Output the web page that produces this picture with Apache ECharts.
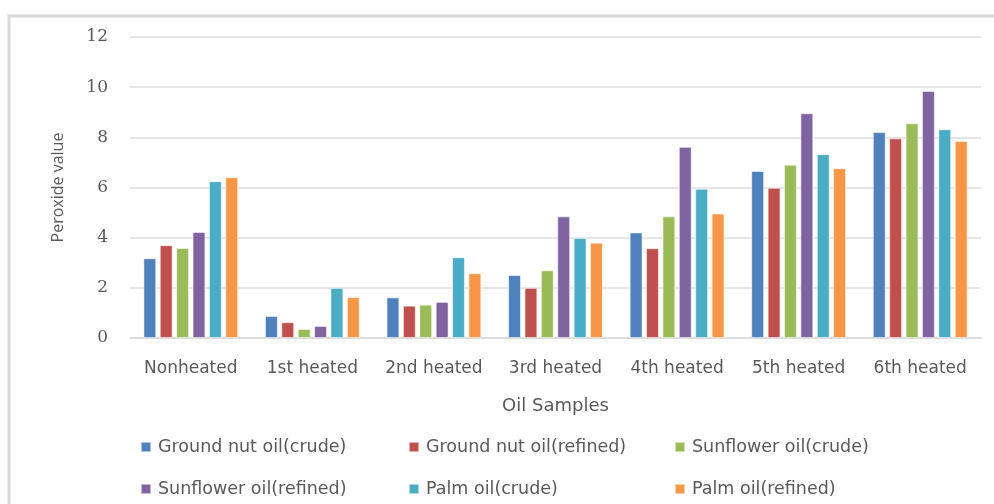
<!DOCTYPE html>
<html>
<head>
<meta charset="utf-8">
<script src="https://cdn.jsdelivr.net/npm/echarts@6/dist/echarts.min.js"></script>
<style>
  html, body { margin: 0; padding: 0; background: #ffffff; }
  #chart { width: 994px; height: 504px; }
</style>
</head>
<body>
<div id="chart"></div>
<script>
// Heating stages of the oil samples
const categories = ['Nonheated', '1st heated', '2nd heated', '3rd heated', '4th heated', '5th heated', '6th heated'];

// Peroxide value per oil sample across heating stages
const groundnutCrude   = [3.18, 0.88, 1.62, 2.51, 4.21, 6.66, 8.21];
const groundnutRefined = [3.70, 0.63, 1.29, 2.00, 3.58, 5.99, 7.96];
const sunflowerCrude   = [3.59, 0.36, 1.33, 2.70, 4.85, 6.91, 8.56];
const sunflowerRefined = [4.23, 0.48, 1.44, 4.85, 7.62, 8.96, 9.85];
const palmCrude        = [6.25, 2.00, 3.22, 3.99, 5.95, 7.33, 8.32];
const palmRefined      = [6.41, 1.63, 2.58, 3.80, 4.96, 6.77, 7.85];

const seriesNames = [
  'Ground nut oil(crude)', 'Ground nut oil(refined)', 'Sunflower oil(crude)',
  'Sunflower oil(refined)', 'Palm oil(crude)', 'Palm oil(refined)'
];
const seriesValues = [groundnutCrude, groundnutRefined, sunflowerCrude, sunflowerRefined, palmCrude, palmRefined];
const colors = ['#4F81BD', '#C0504D', '#9BBB59', '#8064A2', '#4BACC6', '#F79646'];

const yTicks = [0, 2, 4, 6, 8, 10, 12];

const chart = echarts.init(document.getElementById('chart'), null, { renderer: 'canvas' });

// Legend laid out as a 3 x 2 table
const legendCols = [140, 408, 674];
const legendRows = [438, 480];
const legends = seriesNames.map((name, i) => ({
  data: [name],
  left: legendCols[i % 3],
  top: legendRows[Math.floor(i / 3)],
  itemWidth: 10,
  itemHeight: 10,
  itemGap: 0,
  icon: 'rect',
  padding: 0,
  selectedMode: false,
  textStyle: { fontFamily: 'DejaVu Sans', fontSize: 17.5, color: '#595959', padding: [0, 0, 0, 2] }
}));

chart.setOption({
  animation: false,
  color: colors,
  graphic: [
    {
      type: 'polyline',
      shape: { points: [[9, 504], [9, 16], [994, 16]] },
      style: { stroke: '#d9d9d9', lineWidth: 3, fill: null },
      silent: true
    }
  ],
  grid: { left: 130, right: 13, top: 37, bottom: 166, containLabel: false },
  legend: legends,
  xAxis: {
    type: 'category',
    data: categories,
    name: 'Oil Samples',
    nameLocation: 'middle',
    nameGap: 59,
    nameTextStyle: { fontFamily: 'DejaVu Sans', fontSize: 18, color: '#595959' },
    axisLine: { show: true, lineStyle: { color: '#d9d9d9', width: 1.5 } },
    axisTick: { show: false },
    axisLabel: { interval: 0, margin: 22, fontFamily: 'DejaVu Sans', fontSize: 17, color: '#595959' }
  },
  yAxis: {
    type: 'value',
    min: yTicks[0],
    max: yTicks[yTicks.length - 1],
    interval: 2,
    name: 'Peroxide value',
    nameLocation: 'middle',
    nameGap: 64,
    nameRotate: 90,
    nameTextStyle: { fontFamily: 'Open Sans', fontSize: 16, color: '#595959' },
    axisLine: { show: false },
    axisTick: { show: false },
    axisLabel: { margin: 22, fontFamily: 'DejaVu Serif', fontSize: 17, color: '#595959' },
    splitLine: { lineStyle: { color: '#dedede', width: 1.5 } }
  },
  series: seriesNames.map((name, i) => ({
    name: name,
    type: 'bar',
    data: seriesValues[i],
    barGap: '27%',
    barCategoryGap: '22%',
    itemStyle: { borderColor: 'rgba(255,255,255,0.55)', borderWidth: 1 }
  }))
});
</script>
</body>
</html>
